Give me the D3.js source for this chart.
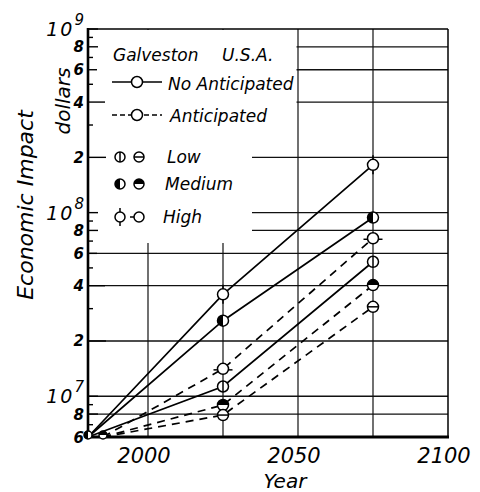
<!DOCTYPE html>
<html>
<head>
<meta charset="utf-8">
<script src="https://cdn.jsdelivr.net/npm/d3@7"></script>
<style>
  html, body { margin: 0; padding: 0; background: #fff; }
  svg { display: block; }
  text { font-family: "DejaVu Sans", sans-serif; font-style: italic; fill: #000; }
</style>
</head>
<body>
<svg id="chart" width="480" height="492"></svg>
<script>
// ---------------- DATA ----------------
const noAntYears = [1980, 2025, 2075];
const antYears   = [1985, 2025, 2075];
const highNoAnt  = [6e6, 3.59e7, 1.82e8];
const medNoAnt   = [6e6, 2.58e7, 9.4e7];
const lowNoAnt   = [6e6, 1.13e7, 5.4e7];
const highAnt    = [6e6, 1.41e7, 7.25e7];
const medAnt     = [6e6, 8.96e6, 4.03e7];
const lowAnt     = [6e6, 7.9e6, 3.07e7];

const xTickYears = [2000, 2050, 2100];
const gridYears  = [2000, 2025, 2050, 2075];
const yGridValues = [8e6, 1e7, 2e7, 4e7, 6e7, 8e7, 1e8, 2e8, 4e8, 6e8, 8e8];
const yLabelMantissas = [2, 4, 6, 8];
const decadeExponents = [7, 8, 9];

const series = [
  { name: "High NoAnt",   years: noAntYears, values: highNoAnt, dashed: false, marker: "highNA" },
  { name: "Medium NoAnt", years: noAntYears, values: medNoAnt,  dashed: false, marker: "medNA" },
  { name: "Low NoAnt",    years: noAntYears, values: lowNoAnt,  dashed: false, marker: "lowNA" },
  { name: "High Ant",     years: antYears,   values: highAnt,   dashed: true,  marker: "highA" },
  { name: "Medium Ant",   years: antYears,   values: medAnt,    dashed: true,  marker: "medA" },
  { name: "Low Ant",      years: antYears,   values: lowAnt,    dashed: true,  marker: "lowA" }
];

// ---------------- LAYOUT ----------------
const svg = d3.select("#chart");
const L = 88, R = 448, T = 29, B = 437;
const x = d3.scaleLinear().domain([1980, 2100]).range([L, R]);
const y = d3.scaleLog().domain([6e6, 1e9]).range([B, T]);

svg.append("rect").attr("width", 480).attr("height", 492).attr("fill", "#fff");

const g = svg.append("g");

// grid lines
g.selectAll(".hgrid").data(yGridValues).enter().append("line")
  .attr("x1", L).attr("x2", R)
  .attr("y1", d => y(d)).attr("y2", d => y(d))
  .attr("stroke", "#111").attr("stroke-width", 1.3);
g.selectAll(".vgrid").data(gridYears).enter().append("line")
  .attr("x1", d => x(d)).attr("x2", d => x(d))
  .attr("y1", T).attr("y2", B)
  .attr("stroke", "#111").attr("stroke-width", 1.2);

// legend mask (white area over grid)
g.append("rect").attr("x", L + 1).attr("y", T + 1)
  .attr("width", x(2050) - 1.5 - (L + 1)).attr("height", 140 - T)
  .attr("fill", "#fff");
g.append("rect").attr("x", L + 1).attr("y", 139)
  .attr("width", 252 - (L + 1)).attr("height", 243 - 139)
  .attr("fill", "#fff");

// frame
g.append("line").attr("x1", L).attr("x2", R).attr("y1", T).attr("y2", T)
  .attr("stroke", "#000").attr("stroke-width", 1.6);
g.append("line").attr("x1", R).attr("x2", R).attr("y1", T).attr("y2", B)
  .attr("stroke", "#000").attr("stroke-width", 1.5);
g.append("line").attr("x1", L).attr("x2", L).attr("y1", T - 1).attr("y2", B + 1.5)
  .attr("stroke", "#000").attr("stroke-width", 2.6);
g.append("line").attr("x1", L - 1).attr("x2", R + 1).attr("y1", B).attr("y2", B)
  .attr("stroke", "#000").attr("stroke-width", 3);

// left axis ticks (all integer multiples)
const tickVals = [];
[6,7,8].forEach(e => { for (let m = 1; m <= 9; m++) { const v = m * Math.pow(10, e); if (v >= 6e6 && v <= 1e9) tickVals.push({v, m}); } });
tickVals.push({ v: 1e9, m: 1 });
const tickLen = m => ({1: 10, 2: 18, 4: 17, 6: 9, 8: 10}[m] || 5);
g.selectAll(".ytick").data(tickVals).enter().append("line")
  .attr("x1", L).attr("x2", d => L + tickLen(d.m))
  .attr("y1", d => y(d.v)).attr("y2", d => y(d.v))
  .attr("stroke", "#000").attr("stroke-width", 1.4);

// y labels: mantissas
const mantLabels = [];
[6,7,8].forEach(e => yLabelMantissas.forEach(m => { const v = m * Math.pow(10, e); if (v >= 6e6 && v < 1e9) mantLabels.push({v, m}); }));
g.selectAll(".ylab").data(mantLabels).enter().append("text")
  .attr("x", L - 4).attr("y", d => y(d.v) + 5.5)
  .attr("text-anchor", "end").attr("font-size", 15).attr("font-weight", "bold")
  .text(d => d.m);

// decade labels
decadeExponents.forEach(e => {
  const ty = y(Math.pow(10, e));
  const t = g.append("text").attr("x", L - 4).attr("y", ty + 7)
    .attr("text-anchor", "end").attr("font-size", 19).attr("letter-spacing", 2);
  t.append("tspan").text("10");
  t.append("tspan").attr("font-size", 15).attr("dy", -11).attr("letter-spacing", 0).text(e);
});

// x labels
g.selectAll(".xlab").data(xTickYears).enter().append("text")
  .attr("x", d => x(d) - 4).attr("y", 463)
  .attr("text-anchor", "middle").attr("font-size", 21)
  .text(d => d);

svg.append("text").attr("x", 285).attr("y", 488).attr("text-anchor", "middle")
  .attr("font-size", 20).text("Year");

svg.append("text").attr("transform", "translate(33,205) rotate(-90)")
  .attr("text-anchor", "middle").attr("font-size", 22).text("Economic Impact");
svg.append("text").attr("transform", "translate(70,101) rotate(-90)")
  .attr("text-anchor", "middle").attr("font-size", 20).text("dollars");

// ---------------- MARKERS ----------------
function drawMarker(sel, type, cx, cy, r) {
  const mg = sel.append("g");
  const sw = 1.5;
  if (type === "highNA") {
    mg.append("line").attr("x1", cx).attr("x2", cx).attr("y1", cy - r - 4).attr("y2", cy + r + 4)
      .attr("stroke", "#000").attr("stroke-width", sw);
  }
  if (type === "highA") {
    mg.append("line").attr("x1", cx - r - 4).attr("x2", cx + r + 4).attr("y1", cy + 1).attr("y2", cy + 1)
      .attr("stroke", "#000").attr("stroke-width", sw);
  }
  mg.append("circle").attr("cx", cx).attr("cy", cy).attr("r", r)
    .attr("fill", "#fff").attr("stroke", "#000").attr("stroke-width", sw);
  if (type === "medNA") {
    mg.append("path").attr("d", `M${cx},${cy - r}A${r},${r} 0 0 0 ${cx},${cy + r}Z`).attr("fill", "#000");
  }
  if (type === "medA") {
    mg.append("path").attr("d", `M${cx - r},${cy}A${r},${r} 0 0 1 ${cx + r},${cy}Z`).attr("fill", "#000");
  }
  if (type === "lowNA") {
    mg.append("line").attr("x1", cx).attr("x2", cx).attr("y1", cy - r).attr("y2", cy + r)
      .attr("stroke", "#000").attr("stroke-width", sw);
  }
  if (type === "lowA") {
    mg.append("line").attr("x1", cx - r).attr("x2", cx + r).attr("y1", cy).attr("y2", cy)
      .attr("stroke", "#000").attr("stroke-width", sw);
  }
  return mg;
}

// ---------------- DATA LINES ----------------
const line = d3.line().x(d => x(d[0])).y(d => y(d[1]));
series.forEach(s => {
  const pts = s.years.map((yr, i) => [yr, s.values[i]]);
  g.append("path").attr("d", line(pts)).attr("fill", "none")
    .attr("stroke", "#000").attr("stroke-width", 1.7)
    .attr("stroke-dasharray", s.dashed ? "8,6" : null);
});
// start blobs
drawMarker(g, "medNA", x(noAntYears[0]), y(highNoAnt[0]) - 2, 4);
drawMarker(g, "medA", x(antYears[0]), y(highAnt[0]) - 2, 4);
series.forEach(s => {
  s.years.forEach((yr, i) => {
    if (i === 0) return;
    drawMarker(g, s.marker, x(yr), y(s.values[i]), 5.5);
  });
});

// ---------------- LEGEND ----------------
const lg = svg.append("g");
lg.append("text").attr("x", 113).attr("y", 61).attr("font-size", 17).text("Galveston");
lg.append("text").attr("x", 222).attr("y", 61).attr("font-size", 17).text("U.S.A.");

lg.append("line").attr("x1", 112).attr("x2", 162).attr("y1", 82).attr("y2", 82)
  .attr("stroke", "#000").attr("stroke-width", 1.7);
lg.append("circle").attr("cx", 137).attr("cy", 82).attr("r", 5.5)
  .attr("fill", "#fff").attr("stroke", "#000").attr("stroke-width", 1.5);
lg.append("text").attr("x", 168).attr("y", 90).attr("font-size", 17).text("No Anticipated");

lg.append("line").attr("x1", 112).attr("x2", 162).attr("y1", 115).attr("y2", 115)
  .attr("stroke", "#000").attr("stroke-width", 1.7).attr("stroke-dasharray", "5,3");
lg.append("circle").attr("cx", 137).attr("cy", 115).attr("r", 5.5)
  .attr("fill", "#fff").attr("stroke", "#000").attr("stroke-width", 1.5);
lg.append("text").attr("x", 170).attr("y", 122).attr("font-size", 17).text("Anticipated");

drawMarker(lg, "lowNA", 120, 157, 5);
drawMarker(lg, "lowA", 139, 157, 5);
lg.append("text").attr("x", 167).attr("y", 163).attr("font-size", 17).text("Low");

drawMarker(lg, "medNA", 120, 184, 5);
drawMarker(lg, "medA", 139, 184, 5);
lg.append("text").attr("x", 165).attr("y", 190).attr("font-size", 17).text("Medium");

drawMarker(lg, "highNA", 120, 217, 5);
lg.append("line").attr("x1", 130).attr("x2", 134).attr("y1", 217).attr("y2", 217)
  .attr("stroke", "#000").attr("stroke-width", 1.5);
lg.append("circle").attr("cx", 139).attr("cy", 217).attr("r", 5)
  .attr("fill", "#fff").attr("stroke", "#000").attr("stroke-width", 1.5);
lg.append("text").attr("x", 163).attr("y", 223).attr("font-size", 17).text("High");
</script>
</body>
</html>
